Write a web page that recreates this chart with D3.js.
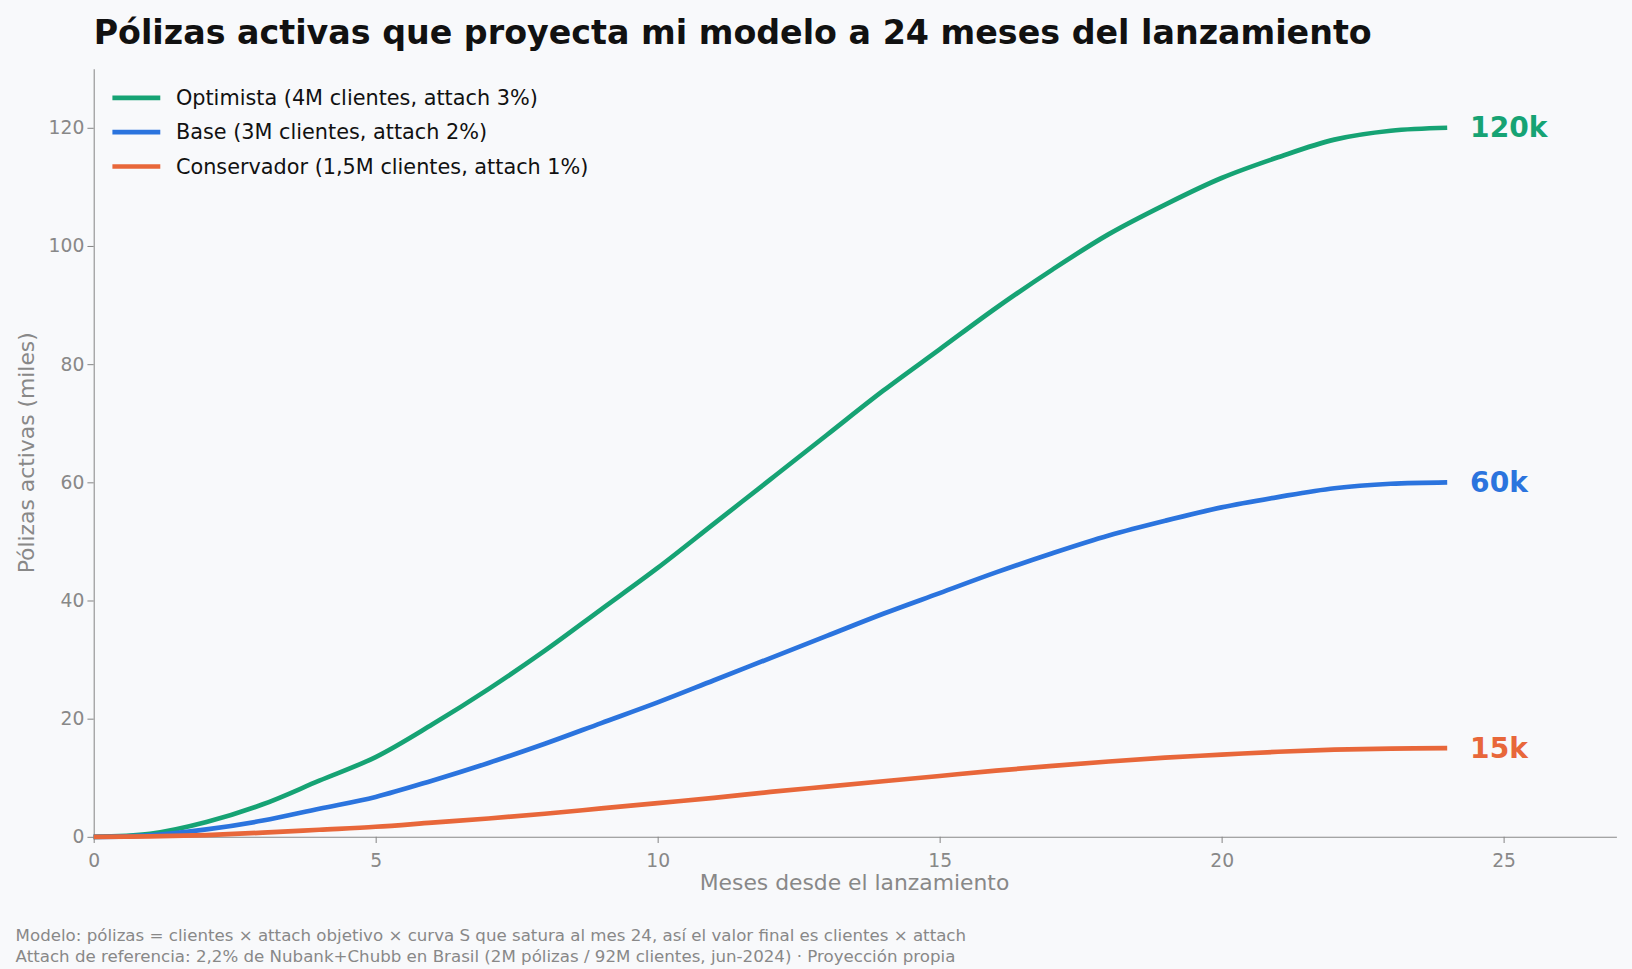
<!DOCTYPE html>
<html><head><meta charset="utf-8">
<script src="https://cdn.jsdelivr.net/npm/d3@7"></script>
<style>body{margin:0;background:#f8f9fb;font-family:"DejaVu Sans",sans-serif;}</style>
</head><body><svg id="c" width="1632" height="969"></svg>
<script>
var months = d3.range(0, 25);
var optimista = [0,0.5,2.5,5.5,9.5,13.5,19,25,31.5,38.5,45.5,53,60.5,68,75.5,82.5,89.5,96,102,107,111.5,115,118,119.5,120];
var base = [0,0.25,1.25,2.75,4.75,6.75,9.5,12.5,15.75,19.25,22.75,26.5,30.25,34,37.75,41.25,44.75,48,51,53.5,55.75,57.5,59,59.75,60];
var conservador = [0,0.06,0.3,0.7,1.2,1.7,2.4,3.1,3.9,4.8,5.7,6.6,7.6,8.5,9.4,10.3,11.2,12,12.75,13.4,13.9,14.4,14.75,14.94,15];
var names = ["Optimista (4M clientes, attach 3%)","Base (3M clientes, attach 2%)","Conservador (1,5M clientes, attach 1%)"];
var endLabels = ["120k","60k","15k"];
var colors = ["#16a374","#2b74de","#e8673a"];
var xTicks = [0,5,10,15,20,25];
var yTicks = [0,20,40,60,80,100,120];

// coordinates below measured on a 1568-wide copy, so scale up
var svg = d3.select("#c").append("g").attr("transform","scale(" + (1632/1568) + ")");
var x = d3.scaleLinear().domain([0,27]).range([90,1553]);
var y = d3.scaleLinear().domain([0,130]).range([804,66]);
var gray = "#888";

var xa = svg.append("g").attr("transform","translate(0,804)").call(d3.axisBottom(x).tickValues(xTicks).tickSize(6).tickSizeOuter(0));
var ya = svg.append("g").attr("transform","translate(90,0)").call(d3.axisLeft(y).tickValues(yTicks).tickSize(6).tickSizeOuter(0));
[xa,ya].forEach(function(a){
  a.selectAll("path,line").attr("stroke",gray);
  a.selectAll("text").attr("fill",gray).style("font-size","18px").style("font-family","DejaVu Sans");
});
xa.selectAll("text").attr("dy","1.1em");

var line = d3.line().x(function(d,i){return x(months[i]);}).y(function(d){return y(d);}).curve(d3.curveCatmullRom);
var series = [optimista, base, conservador];
series.forEach(function(s,k){
  svg.append("path").attr("d",line(s)).attr("fill","none").attr("stroke",colors[k]).attr("stroke-width",4.5);
  svg.append("text").attr("x",x(24)+22).attr("y",y(s[24])+9).attr("fill",colors[k])
    .style("font-size","27px").style("font-weight","bold").text(endLabels[k]);
  svg.append("line").attr("x1",108).attr("x2",154).attr("y1",94+k*33).attr("y2",94+k*33)
    .attr("stroke",colors[k]).attr("stroke-width",4.5);
  svg.append("text").attr("x",169).attr("y",101+k*33).attr("fill","#111").style("font-size","20px").text(names[k]);
});

svg.append("text").attr("x",90).attr("y",42).style("font-size","32px").style("font-weight","bold").attr("fill","#111")
  .text("Pólizas activas que proyecta mi modelo a 24 meses del lanzamiento");
svg.append("text").attr("x",821).attr("y",855).attr("text-anchor","middle").attr("fill",gray).style("font-size","21px")
  .text("Meses desde el lanzamiento");
svg.append("text").attr("transform","translate(33,435) rotate(-90)").attr("text-anchor","middle").attr("fill",gray)
  .style("font-size","21px").text("Pólizas activas (miles)");
svg.append("text").attr("x",15).attr("y",904).attr("fill",gray).style("font-size","16px")
  .text("Modelo: pólizas = clientes × attach objetivo × curva S que satura al mes 24, así el valor final es clientes × attach");
svg.append("text").attr("x",15).attr("y",924).attr("fill",gray).style("font-size","16px")
  .text("Attach de referencia: 2,2% de Nubank+Chubb en Brasil (2M pólizas / 92M clientes, jun-2024) · Proyección propia");
</script></body></html>
